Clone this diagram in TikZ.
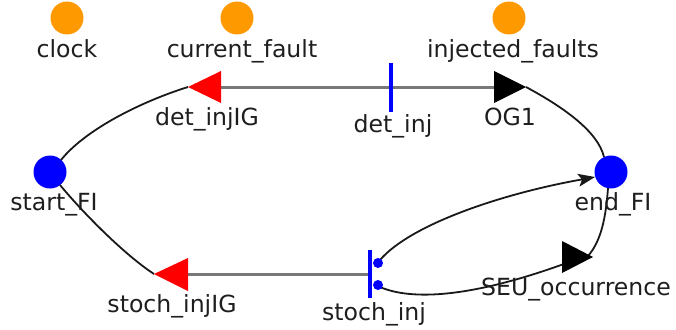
\documentclass[tikz,border=0pt]{standalone}
\usepackage{fontspec}
\setmainfont{DejaVu Sans}
\usetikzlibrary{arrows.meta}
\definecolor{placeorange}{RGB}{255,153,0}
\definecolor{labelgray}{RGB}{30,30,30}
\definecolor{linkgray}{RGB}{120,120,120}
\begin{document}
\begin{tikzpicture}[x=1pt,y=-1pt,
  lbl/.style={anchor=base,inner sep=0pt,text=labelgray,font=\fontsize{23.6}{27}\selectfont},
  statenode/.style={circle,fill=placeorange,minimum size=33pt,inner sep=0pt},
  fiplace/.style={circle,fill=blue,minimum size=33pt,inner sep=0pt},
  inhib/.style={draw=linkgray,line width=3pt},
  arcline/.style={draw=black!90,line width=1.8pt},
  tbar/.style={draw=blue,line width=3.5pt},
  dotnode/.style={circle,fill=blue,minimum size=10pt,inner sep=0pt}]
\useasboundingbox (0,0) rectangle (676,329);

% places
\node[statenode] (clock) at (67,18) {};
\node[statenode] (cf) at (237,18) {};
\node[statenode] (inj) at (509,18) {};
\node[fiplace] (start) at (50,172) {};
\node[fiplace] (endfi) at (611,172) {};

% transition geometry
\coordinate (dIGtip) at (188,87);  \coordinate (dIGbase) at (221,87);
\coordinate (OGtip) at (526,87);   \coordinate (OGbase) at (494,87);
\coordinate (sIGtip) at (154,274); \coordinate (sIGbase) at (188,274);
\coordinate (SEUtip) at (593,257); \coordinate (SEUbase) at (562,257);
\coordinate (dbartop) at (391,63); \coordinate (dbarbot) at (391,112);
\coordinate (sbartop) at (370,250); \coordinate (sbarbot) at (370,298);
\coordinate (sbarmid) at (370,274);
\coordinate (arrowend) at (595,177);
\coordinate (arrowback) at (582,179.4);

% gray connections
\draw[inhib] (dIGbase) -- (OGbase);
\draw[inhib] (sbarmid) -- (sIGbase);

% arcs
\draw[arcline] (61,160) .. controls (85,130) and (140,102) .. (dIGtip);
\draw[arcline] (OGtip) .. controls (565,108) and (598,132) .. (604,157);
\draw[arcline] (60,185) .. controls (85,215) and (125,255) .. (sIGtip);
\draw[arcline] (380,260) .. controls (410,225) and (500,194) .. (arrowback);
\fill[black!90] (arrowend) -- (579.5,186.6) -- (arrowback) -- (577.1,173.8) -- cycle;
\draw[arcline] (380,287) .. controls (410,300) and (470,300) .. (580,258);
\draw[arcline] (608,188) .. controls (606,215) and (602,240) .. (588,256);

% transitions
\fill[red] (dIGtip) -- (221,71) -- (221,103) -- cycle;
\fill[black] (OGtip) -- (494,71) -- (494,103) -- cycle;
\fill[red] (sIGtip) -- (188,258) -- (188,291) -- cycle;
\fill[black] (SEUtip) -- (562,241) -- (562,273) -- cycle;
\draw[tbar] (dbartop) -- (dbarbot);
\draw[tbar] (sbartop) -- (sbarbot);
\node[dotnode] (d1) at (378,263) {};
\node[dotnode] (d2) at (378,285) {};

% labels
\node[lbl] at (67,57) {clock};
\node[lbl] at (242,57) {current\_fault};
\node[lbl] at (513,57) {injected\_faults};
\node[lbl] at (207,125) {det\_injIG};
\node[lbl] at (393,132) {det\_inj};
\node[lbl] at (510,125) {OG1};
\node[lbl] at (54,210) {start\_FI};
\node[lbl] at (613,210) {end\_FI};
\node[lbl] at (172,312) {stoch\_injIG};
\node[lbl] at (374,320) {stoch\_inj};
\node[lbl] at (576,295) {SEU\_occurrence};
\end{tikzpicture}
\end{document}
